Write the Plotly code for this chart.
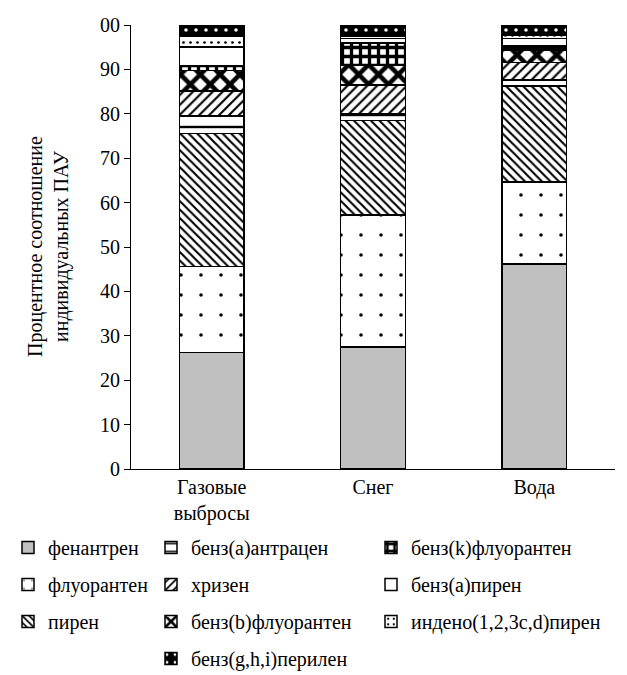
import plotly.graph_objects as go

categories = ["Газовые<br>выбросы", "Снег", "Вода"]

series_names = [
    "фенантрен", "флуорантен", "пирен", "бенз(а)антрацен", "хризен",
    "бенз(b)флуорантен", "бенз(k)флуорантен", "бенз(a)пирен",
    "индено(1,2,3c,d)пирен", "бенз(g,h,i)перилен",
]
fenantren = [26.2, 27.5, 46.2]
fluoranten = [19.4, 29.7, 18.4]
piren = [30.0, 21.3, 21.7]
benz_a_antracen = [3.9, 1.5, 1.3]
hrizen = [5.6, 6.5, 4.0]
benz_b_fluoranten = [4.6, 4.5, 2.8]
benz_k_fluoranten = [1.2, 5.0, 1.0]
benz_a_piren = [4.2, 1.0, 1.6]
indeno_piren = [2.4, 0.5, 0.6]
benz_ghi_perilen = [2.5, 2.5, 2.4]

values = [fenantren, fluoranten, piren, benz_a_antracen, hrizen,
          benz_b_fluoranten, benz_k_fluoranten, benz_a_piren,
          indeno_piren, benz_ghi_perilen]

y_tickvals = [0, 10, 20, 30, 40, 50, 60, 70, 80, 90, 100]
y_ticktext = ["0", "10", "20", "30", "40", "50", "60", "70", "80", "90", "00"]
y_title = "Процентное соотношение<br>индивидуальных ПАУ"

FONT = "Liberation Serif, DejaVu Serif, Times New Roman, serif"

styles = [
    dict(color="#C0C0C0", pattern=dict(shape="")),
    dict(color="white", pattern=dict(shape=".", fgcolor="black", bgcolor="white", size=20, solidity=0.025, fillmode="replace")),
    dict(color="white", pattern=dict(shape="\\", fgcolor="black", bgcolor="white", size=6, solidity=0.35, fillmode="replace")),
    dict(color="white", pattern=dict(shape="-", fgcolor="black", bgcolor="white", size=12, solidity=0.2, fillmode="replace")),
    dict(color="white", pattern=dict(shape="/", fgcolor="black", bgcolor="white", size=7, solidity=0.3, fillmode="replace")),
    dict(color="white", pattern=dict(shape="x", fgcolor="black", bgcolor="white", size=14, solidity=0.55, fillmode="replace")),
    dict(color="black", pattern=dict(shape="+", fgcolor="black", bgcolor="white", size=9, solidity=0.6, fillmode="replace")),
    dict(color="white", pattern=dict(shape="")),
    dict(color="white", pattern=dict(shape=".", fgcolor="black", bgcolor="white", size=7, solidity=0.12, fillmode="replace")),
    dict(color="black", pattern=dict(shape=".", fgcolor="white", bgcolor="black", size=10, solidity=0.1, fillmode="replace")),
]

legend_of = ["legend", "legend", "legend", "legend2", "legend2", "legend2",
             "legend3", "legend3", "legend3", "legend2"]
rank_of = [1, 2, 3, 1, 2, 3, 1, 2, 3, 4]

fig = go.Figure()
for i, (name, vals) in enumerate(zip(series_names, values)):
    st = styles[i]
    fig.add_trace(go.Bar(
        x=categories, y=vals, name=name,
        width=0.4,
        marker=dict(color=st["color"], pattern=st["pattern"],
                    line=dict(color="black", width=1.5)),
        legend=legend_of[i], legendgroup=f"g{i}", legendrank=rank_of[i],
        hoverinfo="skip",
    ))

legend_common = dict(
    orientation="v", xref="container", yref="container",
    yanchor="top", xanchor="left", y=1 - 520 / 675,
    font=dict(family=FONT, size=20, color="black"),
    traceorder="grouped", tracegroupgap=8, itemwidth=30,
    bgcolor="rgba(0,0,0,0)", borderwidth=0,
)

fig.update_layout(
    width=627, height=675,
    barmode="stack",
    plot_bgcolor="white", paper_bgcolor="white",
    margin=dict(l=123, r=20, t=17, b=214, autoexpand=False),
    font=dict(family=FONT, size=20, color="black"),
    showlegend=True,
    legend=dict(legend_common, x=0.0),
    legend2=dict(legend_common, x=143 / 627),
    legend3=dict(legend_common, x=363 / 627),
    xaxis=dict(
        type="category",
        showline=True, linecolor="black", linewidth=1,
        ticks="", showgrid=False,
        tickfont=dict(family=FONT, size=20, color="black"),
    ),
    yaxis=dict(
        range=[0, 100], tickvals=y_tickvals, ticktext=y_ticktext,
        showline=True, linecolor="black", linewidth=1,
        ticks="outside", ticklen=6, tickcolor="black",
        showgrid=False, zeroline=False,
        tickfont=dict(family=FONT, size=20, color="black"),
    ),
    annotations=[dict(
        text=y_title, textangle=-90, showarrow=False,
        xref="paper", yref="paper", x=(40 - 123) / 484, y=0.5,
        xanchor="center", yanchor="middle",
        font=dict(family=FONT, size=20, color="black"),
    )],
)

fig.write_html("out.html")
